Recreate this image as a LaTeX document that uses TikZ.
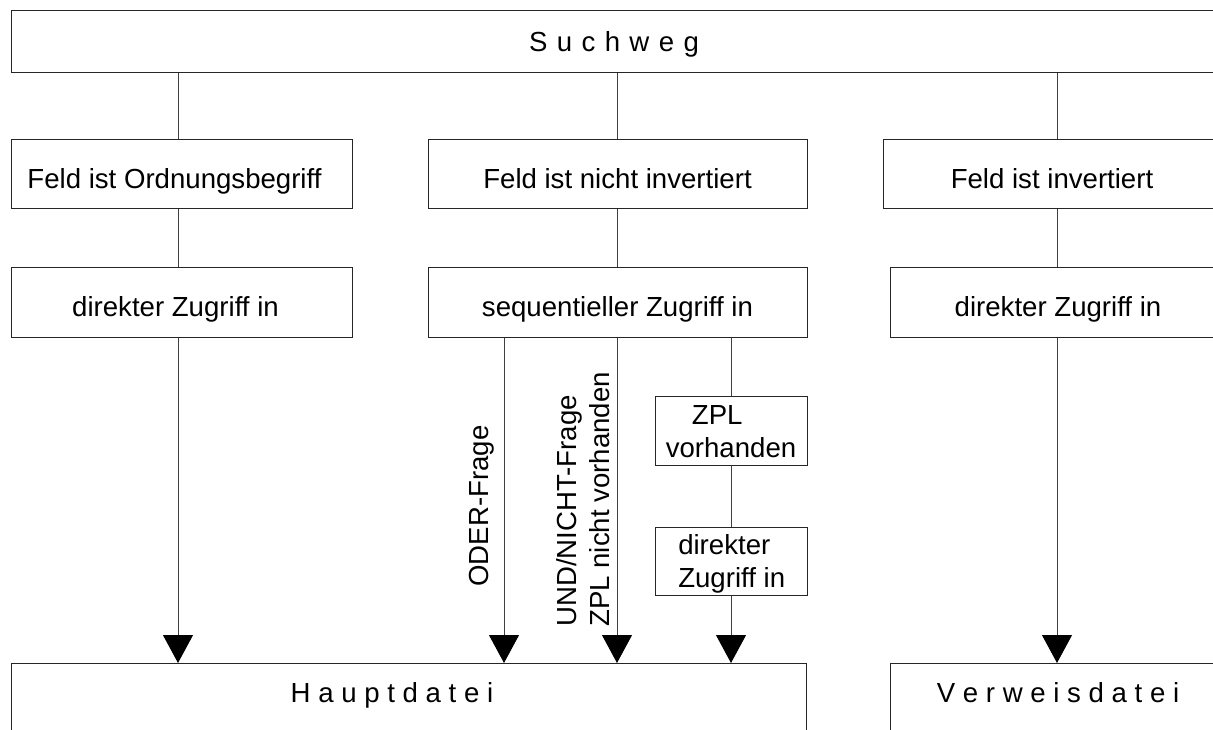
\documentclass[tikz,border=0pt]{standalone}
\usepackage{fontspec}
\setmainfont{Liberation Sans}
\usetikzlibrary{arrows.meta}
\newcommand{\fs}{\fontsize{20.7}{24.5}\selectfont}
\newcommand{\gap}{\hspace{0.34em}}
\tikzset{
  box/.style={draw=black!85, line width=0.75pt, inner sep=0pt, font=\fs},
  one/.style={text height=20.8pt, text depth=0pt},
  capc/.style={text height=14.8pt, text depth=0pt},
  txt/.style={inner sep=0pt, font=\fs},
  conn/.style={draw=black!75, line width=0.75pt},
  arr/.style={conn, -{Triangle[length=21pt,width=22.5pt,black]}},
}
\begin{document}
\begin{tikzpicture}[x=0.75pt,y=-0.75pt]
\useasboundingbox (0,0) rectangle (1213,730);
\clip (0,0) rectangle (1213,730);
% x positions of connectors
\coordinate (xa) at (178,0);
\coordinate (xb) at (617,0);
\coordinate (xc) at (1057,0);
\coordinate (xd) at (504,0);
\coordinate (xe) at (731,0);
% top
\node[box, capc, minimum width={1206*0.75pt}, minimum height={62*0.75pt}] (such) at (614,42) {S\gap u\gap c\gap h\gap w\gap e\gap g};
% row 2
\node[box, one, minimum width={341*0.75pt}, minimum height={69*0.75pt}] (f1) at (181.5,174.5) {Feld ist Ordnungsbegriff\hspace*{10.5pt}};
\node[box, one, minimum width={379*0.75pt}, minimum height={69*0.75pt}] (f2) at (617.5,174.5) {Feld ist nicht invertiert};
\node[box, one, minimum width={338*0.75pt}, minimum height={69*0.75pt}] (f3) at (1052,174.5) {Feld ist invertiert};
% row 3
\node[box, one, minimum width={341*0.75pt}, minimum height={70*0.75pt}] (z1) at (181.5,303) {direkter Zugriff in\hspace*{9pt}};
\node[box, one, minimum width={379*0.75pt}, minimum height={70*0.75pt}] (z2) at (617.5,303) {sequentieller Zugriff in};
\node[box, one, minimum width={336*0.75pt}, minimum height={70*0.75pt}] (z3) at (1058,303) {direkter Zugriff in};
% small boxes
\node[box, minimum width={152*0.75pt}, minimum height={69*0.75pt}, align=center] (zpl) at (731,431.5) {ZPL\hspace*{1.0em}\\vorhanden};
\node[box, minimum width={152*0.75pt}, minimum height={68*0.75pt}] (dz) at (731,561) {};
\node[txt, anchor=west, align=left] (dzt) at (678,564) {direkter\\Zugriff in};
% bottom boxes
\node[box, minimum width={795*0.75pt}, minimum height={100*0.75pt}, anchor=north west] (haupt) at (11,663) {};
\node[txt, capc] (hauptt) at (392,693) {H a u p t d a t e i};
\node[box, minimum width={336*0.75pt}, minimum height={100*0.75pt}, anchor=north west] (verw) at (890,663) {};
\node[txt, capc] (verwt) at (1058,693) {V e r w e i s d a t e i};
% rotated labels
\node[txt, rotate=90] (oder) at (482,506) {ODER-Frage};
\node[txt, rotate=90, anchor=west, align=left] (und) at (583,627) {UND/NICHT-Frage\\ZPL nicht vorhanden};
% connectors
\draw[conn] (such.south -| xa) -- (f1.north -| xa);
\draw[conn] (such.south -| xb) -- (f2.north -| xb);
\draw[conn] (such.south -| xc) -- (f3.north -| xc);
\draw[conn] (f1.south -| xa) -- (z1.north -| xa);
\draw[conn] (f2.south -| xb) -- (z2.north -| xb);
\draw[conn] (f3.south -| xc) -- (z3.north -| xc);
\draw[arr] (z1.south -| xa) -- (haupt.north -| xa);
\draw[arr] (z2.south -| xd) -- (haupt.north -| xd);
\draw[arr] (z2.south -| xb) -- (haupt.north -| xb);
\draw[conn] (z2.south -| xe) -- (zpl.north -| xe);
\draw[conn] (zpl.south -| xe) -- (dz.north -| xe);
\draw[arr] (dz.south -| xe) -- (haupt.north -| xe);
\draw[arr] (z3.south -| xc) -- (verw.north -| xc);
\end{tikzpicture}
\end{document}
